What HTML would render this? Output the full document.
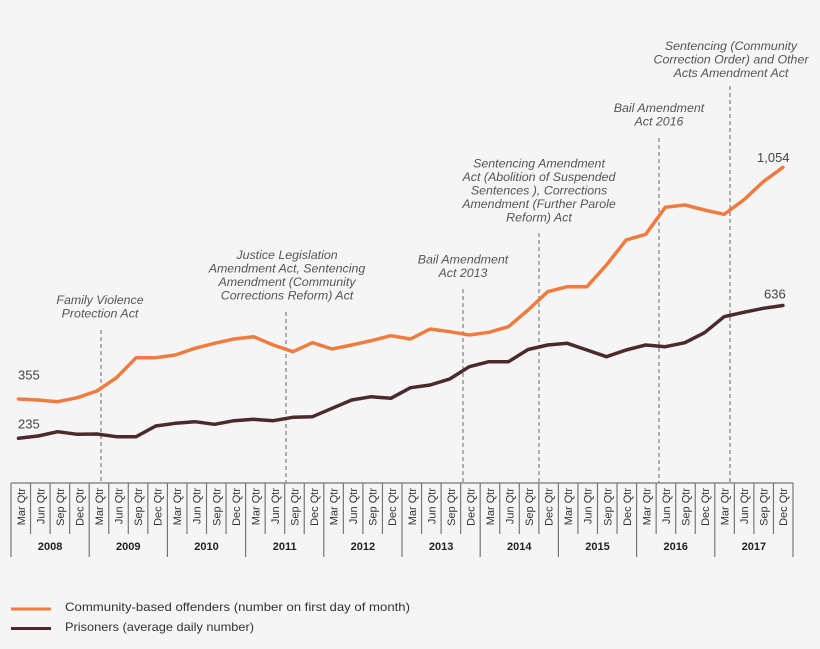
<!DOCTYPE html>
<html>
<head>
<meta charset="utf-8">
<style>
  html,body{margin:0;padding:0;background:#f5f5f5;}
  svg{display:block;}
  text{font-family:"Liberation Sans",sans-serif;}
</style>
</head>
<body>
<svg width="820" height="649" viewBox="0 0 820 649" xmlns="http://www.w3.org/2000/svg">
  <rect width="820" height="649" fill="#f5f5f5"/>

  <!-- dashed event lines -->
  <g stroke="#666" stroke-width="1" stroke-dasharray="4,3">
    <line x1="101" y1="330" x2="101" y2="483"/>
    <line x1="286" y1="312" x2="286" y2="483"/>
    <line x1="463" y1="289" x2="463" y2="483"/>
    <line x1="539" y1="233" x2="539" y2="483"/>
    <line x1="659" y1="138" x2="659" y2="483"/>
    <line x1="730" y1="86" x2="730" y2="483"/>
  </g>

  <!-- annotations -->
  <g font-style="italic" font-size="12.4" fill="#555" text-anchor="middle">
    <text x="100" y="304">Family Violence</text>
    <text x="100" y="317.5">Protection Act</text>

    <text x="287" y="259">Justice Legislation</text>
    <text x="287" y="272.5">Amendment Act, Sentencing</text>
    <text x="287" y="286">Amendment (Community</text>
    <text x="287" y="299.5">Corrections Reform) Act</text>

    <text x="463" y="263.5">Bail Amendment</text>
    <text x="463" y="277">Act 2013</text>

    <text x="539" y="167.5">Sentencing Amendment</text>
    <text x="539" y="181">Act (Abolition of Suspended</text>
    <text x="539" y="194.5">Sentences ), Corrections</text>
    <text x="539" y="208">Amendment (Further Parole</text>
    <text x="539" y="221.5">Reform) Act</text>

    <text x="659" y="112">Bail Amendment</text>
    <text x="659" y="125.5">Act 2016</text>

    <text x="731" y="50">Sentencing (Community</text>
    <text x="731" y="63.5">Correction Order) and Other</text>
    <text x="731" y="77">Acts Amendment Act</text>
  </g>

  <!-- series -->
  <polyline fill="none" stroke="#ef7b3e" stroke-width="3.5" stroke-linejoin="round" stroke-linecap="round"
    points="18.5,399 38.1,400 57.7,401.7 77.3,397.7 96.9,391 116.5,377.7 136.1,357.7 155.7,357.7 175.3,355 194.9,348.3 214.5,343.3 234.1,339 253.7,336.7 273.3,345 292.9,351.7 312.5,342.7 332.1,349 351.7,345 371.3,340.7 390.9,335.7 410.5,339 430.1,329 449.7,331.7 469.3,335 488.9,332.3 508.5,326.7 528.1,310 547.7,291.7 567.3,286.7 586.9,286.7 606.5,265 626.1,240 645.7,234.3 665.3,207.3 684.9,205 704.5,210 724.1,214.3 743.7,200 763.3,181.7 782.9,167.3"/>
  <polyline fill="none" stroke="#4b2a2c" stroke-width="3.5" stroke-linejoin="round" stroke-linecap="round"
    points="18.5,438.3 38.1,436 57.7,431.7 77.3,434.3 96.9,434 116.5,436.7 136.1,436.7 155.7,426 175.3,423.3 194.9,421.7 214.5,424.3 234.1,420.7 253.7,419.3 273.3,420.7 292.9,417.3 312.5,416.7 332.1,408.3 351.7,400 371.3,396.7 390.9,398.3 410.5,387.7 430.1,385 449.7,379 469.3,366.7 488.9,361.7 508.5,361.7 528.1,349.5 547.7,345 567.3,343.3 586.9,350 606.5,356.7 626.1,350 645.7,345 665.3,346.7 684.9,342.7 704.5,332.7 724.1,316.7 743.7,312.3 763.3,308.3 782.9,305.5"/>

  <!-- value labels -->
  <g font-size="13" fill="#444">
    <text x="18" y="379.5">355</text>
    <text x="18" y="428.5">235</text>
    <text x="757" y="162">1,054</text>
    <text x="764" y="298.5">636</text>
  </g>

  <!-- axis -->
  <g stroke="#777" stroke-width="1.2" fill="none">
    <line x1="11" y1="483" x2="793" y2="483"/>
    <line x1="11" y1="483" x2="11" y2="557"/>
    <line x1="30.55" y1="483" x2="30.55" y2="534"/>
    <line x1="50.1" y1="483" x2="50.1" y2="534"/>
    <line x1="69.65" y1="483" x2="69.65" y2="534"/>
    <line x1="89.2" y1="483" x2="89.2" y2="557"/>
    <line x1="108.75" y1="483" x2="108.75" y2="534"/>
    <line x1="128.3" y1="483" x2="128.3" y2="534"/>
    <line x1="147.85" y1="483" x2="147.85" y2="534"/>
    <line x1="167.4" y1="483" x2="167.4" y2="557"/>
    <line x1="186.95" y1="483" x2="186.95" y2="534"/>
    <line x1="206.5" y1="483" x2="206.5" y2="534"/>
    <line x1="226.05" y1="483" x2="226.05" y2="534"/>
    <line x1="245.6" y1="483" x2="245.6" y2="557"/>
    <line x1="265.15" y1="483" x2="265.15" y2="534"/>
    <line x1="284.7" y1="483" x2="284.7" y2="534"/>
    <line x1="304.25" y1="483" x2="304.25" y2="534"/>
    <line x1="323.8" y1="483" x2="323.8" y2="557"/>
    <line x1="343.35" y1="483" x2="343.35" y2="534"/>
    <line x1="362.9" y1="483" x2="362.9" y2="534"/>
    <line x1="382.45" y1="483" x2="382.45" y2="534"/>
    <line x1="402" y1="483" x2="402" y2="557"/>
    <line x1="421.55" y1="483" x2="421.55" y2="534"/>
    <line x1="441.1" y1="483" x2="441.1" y2="534"/>
    <line x1="460.65" y1="483" x2="460.65" y2="534"/>
    <line x1="480.2" y1="483" x2="480.2" y2="557"/>
    <line x1="499.75" y1="483" x2="499.75" y2="534"/>
    <line x1="519.3" y1="483" x2="519.3" y2="534"/>
    <line x1="538.85" y1="483" x2="538.85" y2="534"/>
    <line x1="558.4" y1="483" x2="558.4" y2="557"/>
    <line x1="577.95" y1="483" x2="577.95" y2="534"/>
    <line x1="597.5" y1="483" x2="597.5" y2="534"/>
    <line x1="617.05" y1="483" x2="617.05" y2="534"/>
    <line x1="636.6" y1="483" x2="636.6" y2="557"/>
    <line x1="656.15" y1="483" x2="656.15" y2="534"/>
    <line x1="675.7" y1="483" x2="675.7" y2="534"/>
    <line x1="695.25" y1="483" x2="695.25" y2="534"/>
    <line x1="714.8" y1="483" x2="714.8" y2="557"/>
    <line x1="734.35" y1="483" x2="734.35" y2="534"/>
    <line x1="753.9" y1="483" x2="753.9" y2="534"/>
    <line x1="773.45" y1="483" x2="773.45" y2="534"/>
    <line x1="793" y1="483" x2="793" y2="557"/>
  </g>

  <!-- quarter labels -->
  <g font-size="11" fill="#333" text-anchor="end">
    <text transform="translate(24.8,488) rotate(-90)">Mar Qtr</text>
    <text transform="translate(44.3,488) rotate(-90)">Jun Qtr</text>
    <text transform="translate(63.9,488) rotate(-90)">Sep Qtr</text>
    <text transform="translate(83.4,488) rotate(-90)">Dec Qtr</text>
    <text transform="translate(103.0,488) rotate(-90)">Mar Qtr</text>
    <text transform="translate(122.5,488) rotate(-90)">Jun Qtr</text>
    <text transform="translate(142.1,488) rotate(-90)">Sep Qtr</text>
    <text transform="translate(161.6,488) rotate(-90)">Dec Qtr</text>
    <text transform="translate(181.2,488) rotate(-90)">Mar Qtr</text>
    <text transform="translate(200.7,488) rotate(-90)">Jun Qtr</text>
    <text transform="translate(220.3,488) rotate(-90)">Sep Qtr</text>
    <text transform="translate(239.8,488) rotate(-90)">Dec Qtr</text>
    <text transform="translate(259.4,488) rotate(-90)">Mar Qtr</text>
    <text transform="translate(278.9,488) rotate(-90)">Jun Qtr</text>
    <text transform="translate(298.5,488) rotate(-90)">Sep Qtr</text>
    <text transform="translate(318.0,488) rotate(-90)">Dec Qtr</text>
    <text transform="translate(337.6,488) rotate(-90)">Mar Qtr</text>
    <text transform="translate(357.1,488) rotate(-90)">Jun Qtr</text>
    <text transform="translate(376.7,488) rotate(-90)">Sep Qtr</text>
    <text transform="translate(396.2,488) rotate(-90)">Dec Qtr</text>
    <text transform="translate(415.8,488) rotate(-90)">Mar Qtr</text>
    <text transform="translate(435.3,488) rotate(-90)">Jun Qtr</text>
    <text transform="translate(454.9,488) rotate(-90)">Sep Qtr</text>
    <text transform="translate(474.4,488) rotate(-90)">Dec Qtr</text>
    <text transform="translate(494.0,488) rotate(-90)">Mar Qtr</text>
    <text transform="translate(513.5,488) rotate(-90)">Jun Qtr</text>
    <text transform="translate(533.1,488) rotate(-90)">Sep Qtr</text>
    <text transform="translate(552.6,488) rotate(-90)">Dec Qtr</text>
    <text transform="translate(572.2,488) rotate(-90)">Mar Qtr</text>
    <text transform="translate(591.7,488) rotate(-90)">Jun Qtr</text>
    <text transform="translate(611.3,488) rotate(-90)">Sep Qtr</text>
    <text transform="translate(630.8,488) rotate(-90)">Dec Qtr</text>
    <text transform="translate(650.4,488) rotate(-90)">Mar Qtr</text>
    <text transform="translate(669.9,488) rotate(-90)">Jun Qtr</text>
    <text transform="translate(689.5,488) rotate(-90)">Sep Qtr</text>
    <text transform="translate(709.0,488) rotate(-90)">Dec Qtr</text>
    <text transform="translate(728.6,488) rotate(-90)">Mar Qtr</text>
    <text transform="translate(748.1,488) rotate(-90)">Jun Qtr</text>
    <text transform="translate(767.7,488) rotate(-90)">Sep Qtr</text>
    <text transform="translate(787.2,488) rotate(-90)">Dec Qtr</text>
  </g>

  <!-- year labels -->
  <g font-size="11" font-weight="bold" fill="#222" text-anchor="middle">
    <text x="50.1" y="550">2008</text>
    <text x="128.3" y="550">2009</text>
    <text x="206.5" y="550">2010</text>
    <text x="284.7" y="550">2011</text>
    <text x="362.9" y="550">2012</text>
    <text x="441.1" y="550">2013</text>
    <text x="519.3" y="550">2014</text>
    <text x="597.5" y="550">2015</text>
    <text x="675.7" y="550">2016</text>
    <text x="753.9" y="550">2017</text>
  </g>

  <!-- legend -->
  <line x1="11" y1="609" x2="51" y2="609" stroke="#ef7b3e" stroke-width="3"/>
  <line x1="11" y1="628.5" x2="51" y2="628.5" stroke="#4b2a2c" stroke-width="3"/>
  <g font-size="12" fill="#333">
    <text x="65" y="611" textLength="345" lengthAdjust="spacingAndGlyphs">Community-based  offenders (number on first day of month)</text>
    <text x="65" y="631" textLength="189" lengthAdjust="spacingAndGlyphs">Prisoners (average daily number)</text>
  </g>
</svg>
</body>
</html>
